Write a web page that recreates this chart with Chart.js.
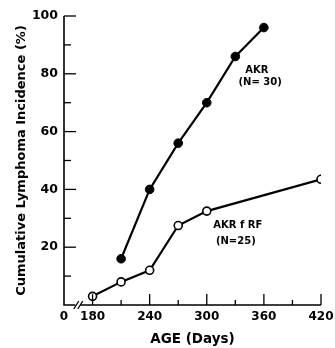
<!DOCTYPE html>
<html>
<head>
<meta charset="utf-8">
<script src="https://cdn.jsdelivr.net/npm/chart.js@4"></script>
<style>
  html, body { margin: 0; padding: 0; background: #fff; }
  #wrap { width: 335px; height: 348px; position: relative; }
</style>
</head>
<body>
<div id="wrap"><canvas id="grafico"></canvas></div>
<script>
// datos
const dias_akr = [210, 240, 270, 300, 330, 360];
const incidencia_akr = [16, 40, 56, 70, 86, 96];
const dias_rf = [180, 210, 240, 270, 300, 420];
const incidencia_rf = [3, 8, 12, 27.5, 32.5, 43.5];
const ticks_x = [150, 180, 210, 240, 270, 300, 330, 360, 390, 420];
const etiquetas_x = ['0', '180', '', '240', '', '300', '', '360', '', '420'];
const ticks_y = [0, 10, 20, 30, 40, 50, 60, 70, 80, 90, 100];
const etiquetas_y = ['', '', '20', '', '40', '', '60', '', '80', '', '100'];

const fuente = 'DejaVu Sans';

// ejes, marcas hacia dentro, corte del eje y textos
const ejesPlugin = {
    id: 'ejes',
    afterDraw(chart) {
        const ctx = chart.ctx;
        const x = chart.scales.x;
        const y = chart.scales.y;
        const x0 = x.getPixelForValue(150);
        const y0 = y.getPixelForValue(0);
        ctx.save();
        ctx.strokeStyle = '#000';
        ctx.lineWidth = 1.6;
        ctx.beginPath();
        ctx.moveTo(x0, y.getPixelForValue(100));
        ctx.lineTo(x0, y0);
        ctx.lineTo(x.getPixelForValue(420), y0);
        ctx.stroke();

        ctx.lineWidth = 1.3;
        ticks_y.forEach(v => {
            if (v === 0) return;
            const py = y.getPixelForValue(v);
            const largo = v % 20 === 0 ? 12 : 7;
            ctx.beginPath();
            ctx.moveTo(x0, py);
            ctx.lineTo(x0 + largo, py);
            ctx.stroke();
        });
        ticks_x.forEach(v => {
            if (v === 150) return;
            const px = x.getPixelForValue(v);
            const largo = (v - 180) % 60 === 0 ? 11 : 5;
            ctx.beginPath();
            ctx.moveTo(px, y0);
            ctx.lineTo(px, y0 - largo);
            ctx.stroke();
        });

        // corte del eje
        const xc = x.getPixelForValue(165);
        ctx.fillStyle = '#fff';
        ctx.fillRect(xc - 3, y0 - 2, 5, 4);
        ctx.lineWidth = 1.3;
        [-2, 2].forEach(d => {
            ctx.beginPath();
            ctx.moveTo(xc + d - 2.5, y0 + 4);
            ctx.lineTo(xc + d + 2.5, y0 - 4);
            ctx.stroke();
        });

        // rotulos de las series
        ctx.fillStyle = '#000';
        ctx.font = 'bold 10px "' + fuente + '"';
        ctx.textAlign = 'center';
        ctx.textBaseline = 'middle';
        const textos = [
            ['AKR', 352.5, 81.3],
            ['(N= 30)', 356, 77],
            ['AKR f RF', 332.6, 27.7],
            ['(N=25)', 330.5, 22]
        ];
        textos.forEach(t => {
            ctx.fillText(t[0], x.getPixelForValue(t[1]), y.getPixelForValue(t[2]));
        });
        ctx.restore();
    }
};

document.addEventListener('DOMContentLoaded', function() {
    const canva = document.getElementById('grafico');

    new Chart(canva, {
        type: 'line',
        data: {
            datasets: [{
                label: 'AKR (N=30)',
                data: dias_akr.map((d, i) => ({ x: d, y: incidencia_akr[i] })),
                borderColor: '#000',
                backgroundColor: '#000',
                borderWidth: 2.2,
                pointRadius: 4.3,
                pointBorderWidth: 1,
                pointBorderColor: '#000',
                pointBackgroundColor: '#000',
                tension: 0
            },
            {
                label: 'AKR f RF (N=25)',
                data: dias_rf.map((d, i) => ({ x: d, y: incidencia_rf[i] })),
                borderColor: '#000',
                backgroundColor: '#fff',
                borderWidth: 2.2,
                pointRadius: 4,
                pointBorderWidth: 1.6,
                pointBorderColor: '#000',
                pointBackgroundColor: '#fff',
                tension: 0
            }]
        },
        options: {
            responsive: true,
            maintainAspectRatio: false,
            animation: false,
            layout: {
                padding: { top: 16, right: 14, left: 0, bottom: 0 }
            },
            plugins: {
                legend: { display: false },
                tooltip: { enabled: false }
            },
            scales: {
                x: {
                    type: 'linear',
                    min: 150,
                    max: 420,
                    grid: { display: false, drawTicks: false, tickLength: 0 },
                    border: { display: false },
                    afterBuildTicks: function(axis) {
                        axis.ticks = ticks_x.map(v => ({ value: v }));
                    },
                    afterFit: function(axis) {
                        axis.height = 43;
                        axis.paddingRight = 0;
                    },
                    ticks: {
                        autoSkip: false,
                        maxRotation: 0,
                        padding: 5,
                        color: '#000',
                        font: { family: fuente, size: 12, weight: 'bold' },
                        callback: function(value) {
                            const i = ticks_x.indexOf(value);
                            return i >= 0 ? etiquetas_x[i] : '';
                        }
                    },
                    title: {
                        display: true,
                        text: 'AGE (Days)',
                        color: '#000',
                        padding: { top: 0, bottom: 0 },
                        font: { family: fuente, size: 13.5, weight: 'bold' }
                    }
                },
                y: {
                    min: 0,
                    max: 100,
                    grid: { display: false, drawTicks: false, tickLength: 0 },
                    border: { display: false },
                    afterBuildTicks: function(axis) {
                        axis.ticks = ticks_y.map(v => ({ value: v }));
                    },
                    afterFit: function(axis) {
                        axis.width = 64;
                    },
                    ticks: {
                        autoSkip: false,
                        padding: 6,
                        color: '#000',
                        font: { family: fuente, size: 12.5, weight: 'bold' },
                        callback: function(value) {
                            const i = ticks_y.indexOf(value);
                            return i >= 0 ? etiquetas_y[i] : '';
                        }
                    },
                    title: {
                        display: true,
                        text: 'Cumulative Lymphoma Incidence (%)',
                        color: '#000',
                        padding: { top: 14, bottom: 0 },
                        font: { family: fuente, size: 13, weight: 'bold' }
                    }
                }
            }
        },
        plugins: [ejesPlugin]
    });
});
</script>
</body>
</html>
